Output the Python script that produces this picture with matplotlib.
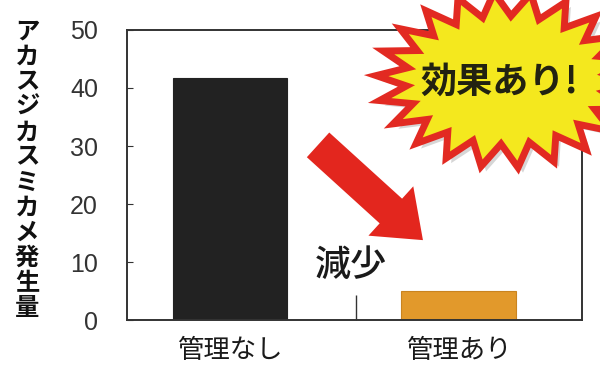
import matplotlib.pyplot as plt
import numpy as np
from matplotlib.patches import Polygon

plt.rcParams['font.family'] = ['Noto Sans CJK JP', 'DejaVu Sans']

# Data
categories = ['管理なし', '管理あり']
values = [41.7, 5.0]
bar_colors = ['#222222', '#E2992B']
y_label = 'アカスジカスミカメ発生量'

fig = plt.figure(figsize=(6, 3.7), dpi=100)
ax = fig.add_axes([0.212, 0.135, 0.758, 0.784])

x = np.arange(len(categories))
ax.bar(x, values, width=0.5, color=bar_colors, edgecolor=['#222222', '#C98420'], linewidth=0.8)

ax.set_xlim(-0.45, 1.54)
ax.set_ylim(0, 50)
ax.set_yticks([0, 10, 20, 30, 40, 50])
ax.set_xticks(x)
ax.set_xticklabels(categories, fontsize=19)
ax.tick_params(axis='x', length=0, pad=12, colors='#1a1a1a')
ax.tick_params(axis='y', direction='in', length=4, pad=21, labelsize=18,
               colors='#333333')
for lab in ax.get_yticklabels():
    lab.set_family(['Liberation Sans', 'DejaVu Sans'])
ax.set_xticks([0.55], minor=True)
ax.tick_params(axis='x', which='minor', direction='in', length=18, width=1, color='#333333')
for s in ax.spines.values():
    s.set_color('#333333')
    s.set_linewidth(1.4)

# Vertical stacked y label
fig.text(27 / 600, 1 - 170 / 370, '\n'.join(y_label), ha='center', va='center',
         fontsize=17.5, fontweight='bold', linespacing=1.06, color='#111111')

# Red arrow (figure pixels)
ax.annotate('', xy=(425, 370 - 242), xytext=(316, 370 - 143),
            xycoords='figure pixels', textcoords='figure pixels',
            arrowprops=dict(arrowstyle='simple,head_length=1.3,head_width=2.0,tail_width=1.0',
                            mutation_scale=24, color='#E3261E', lw=0))

fig.text(351 / 600, 1 - 266 / 370, '減少', ha='center', va='center', fontsize=26,
         color='#1a1a1a', fontweight='medium')

# Starburst
cx, cy = 506, 80
n = 22
ang = np.linspace(0, 2 * np.pi, 2 * n, endpoint=False) + 0.05
rx = np.where(np.arange(2 * n) % 2 == 0, 130, 100)
ry = np.where(np.arange(2 * n) % 2 == 0, 88, 64)
px = cx + rx * np.cos(ang)
py = cy + ry * np.sin(ang)
shadow = Polygon(np.column_stack([(px + 5) / 600, 1 - (py + 5) / 370]), closed=True,
                 transform=fig.transFigure, facecolor='#BBBBBB', edgecolor='none', alpha=0.6)
star = Polygon(np.column_stack([px / 600, 1 - py / 370]), closed=True, transform=fig.transFigure,
               facecolor='#F4E81E', edgecolor='#E22A22', linewidth=5, joinstyle='miter')
fig.add_artist(shadow)
fig.add_artist(star)
fig.text(499 / 600, 1 - 82 / 370, '効果あり!', ha='center', va='center', fontsize=26,
         fontweight='bold', color='#222211')

fig.savefig('out.png', dpi=100)
